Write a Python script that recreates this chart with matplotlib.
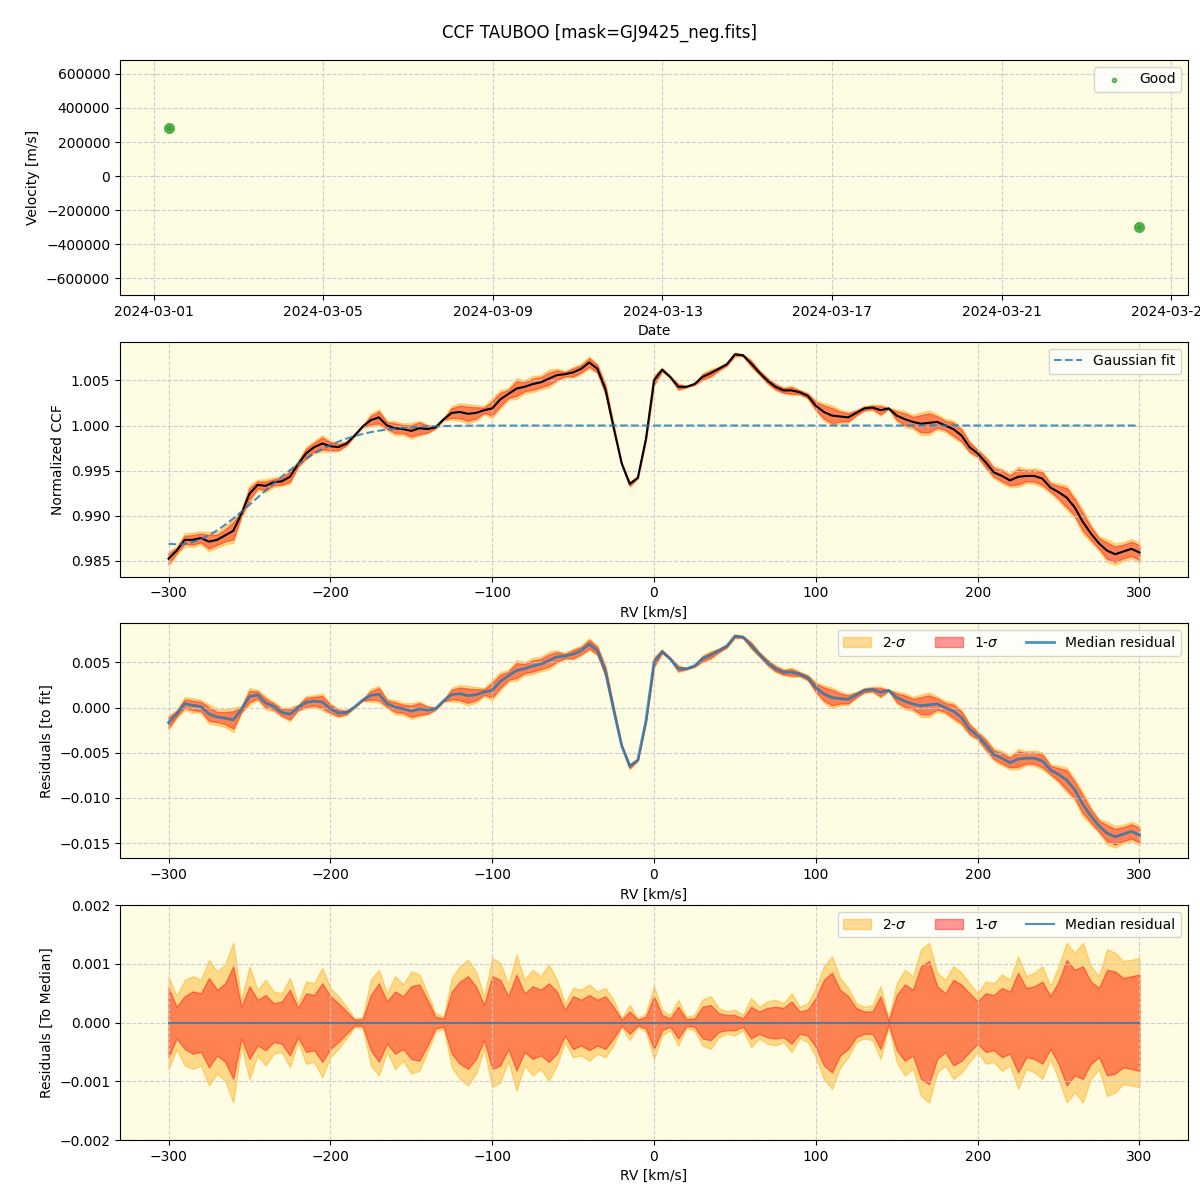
import numpy as np
import matplotlib
matplotlib.use("Agg")
import matplotlib.pyplot as plt
import matplotlib.dates as mdates
from matplotlib.ticker import MultipleLocator
from datetime import datetime

# --- top panel: RV time series ---
obs_dates = [datetime(2024, 3, 1, 8, 25), datetime(2024, 3, 24, 6, 0)]
obs_velocity = [282000, -298000]

# --- CCF, sampled every 5 km/s from -300 to 300 ---
rv_grid = list(range(-300, 305, 5))
ccf_values = [
    0.9852, 0.9861, 0.9873, 0.9873, 0.9875, 0.9871, 0.9873, 0.9878, 0.9883, 0.9902,
    0.9924, 0.9934, 0.9933, 0.9937, 0.9938, 0.9943, 0.9957, 0.9969, 0.9976, 0.9980,
    0.9977, 0.9976, 0.9980, 0.9989, 0.9999, 1.0006, 1.0009, 1.0000, 0.9997, 0.9996,
    0.9994, 0.9997, 0.9996, 0.9998, 1.0007, 1.0014, 1.0015, 1.0013, 1.0014, 1.0017,
    1.0019, 1.0029, 1.0035, 1.0041, 1.0043, 1.0046, 1.0048, 1.0052, 1.0056, 1.0057,
    1.0059, 1.0063, 1.0070, 1.0063, 1.0040, 0.9998, 0.9958, 0.9935, 0.9942, 0.9985,
    1.0050, 1.0062, 1.0054, 1.0043, 1.0043, 1.0046, 1.0054, 1.0058, 1.0063, 1.0068,
    1.0079, 1.0078, 1.0069, 1.0059, 1.0050, 1.0043, 1.0039, 1.0039, 1.0037, 1.0033,
    1.0022, 1.0015, 1.0011, 1.0010, 1.0009, 1.0014, 1.0019, 1.0020, 1.0017, 1.0019,
    1.0011, 1.0007, 1.0004, 1.0002, 1.0003, 1.0004, 1.0000, 0.9996, 0.9989, 0.9976,
    0.9969, 0.9959, 0.9948, 0.9944, 0.9939, 0.9943, 0.9944, 0.9944, 0.9941, 0.9931,
    0.9926, 0.9920, 0.9909, 0.9893, 0.9880, 0.9869, 0.9861, 0.9857, 0.9860, 0.9863,
    0.9859,
]

# half-widths of the 1-sigma and 2-sigma spread around the median
sigma1 = [
    0.00059, 0.00027, 0.00045, 0.00053, 0.00050, 0.00076, 0.00056, 0.00067, 0.00096, 0.00027,
    0.00062, 0.00039, 0.00047, 0.00033, 0.00036, 0.00056, 0.00025, 0.00050, 0.00047, 0.00067,
    0.00045, 0.00033, 0.00019, 0.00005, 0.00006, 0.00047, 0.00067, 0.00036, 0.00053, 0.00045,
    0.00062, 0.00065, 0.00039, 0.00010, 0.00007, 0.00053, 0.00070, 0.00079, 0.00062, 0.00030,
    0.00079, 0.00073, 0.00045, 0.00082, 0.00050, 0.00062, 0.00056, 0.00067, 0.00053, 0.00022,
    0.00045, 0.00039, 0.00047, 0.00039, 0.00045, 0.00027, 0.00005, 0.00019, 0.00005, 0.00010,
    0.00045, 0.00013, 0.00007, 0.00027, 0.00006, 0.00007, 0.00027, 0.00030, 0.00016, 0.00013,
    0.00013, 0.00007, 0.00027, 0.00019, 0.00025, 0.00027, 0.00025, 0.00036, 0.00019, 0.00022,
    0.00042, 0.00073, 0.00085, 0.00056, 0.00045, 0.00025, 0.00019, 0.00019, 0.00045, 0.00003,
    0.00047, 0.00065, 0.00056, 0.00096, 0.00105, 0.00062, 0.00050, 0.00073, 0.00065, 0.00050,
    0.00036, 0.00050, 0.00047, 0.00059, 0.00053, 0.00085, 0.00059, 0.00062, 0.00070, 0.00045,
    0.00070, 0.00107, 0.00090, 0.00096, 0.00070, 0.00059, 0.00090, 0.00087, 0.00076, 0.00079,
    0.00082,
]
sigma2 = [
    0.00079, 0.00045, 0.00073, 0.00079, 0.00073, 0.00107, 0.00087, 0.00099, 0.00136, 0.00039,
    0.00096, 0.00056, 0.00073, 0.00053, 0.00050, 0.00076, 0.00033, 0.00070, 0.00067, 0.00093,
    0.00059, 0.00045, 0.00027, 0.00007, 0.00010, 0.00073, 0.00090, 0.00050, 0.00079, 0.00065,
    0.00087, 0.00082, 0.00050, 0.00016, 0.00010, 0.00076, 0.00096, 0.00107, 0.00087, 0.00045,
    0.00110, 0.00102, 0.00065, 0.00116, 0.00073, 0.00090, 0.00079, 0.00099, 0.00073, 0.00033,
    0.00059, 0.00056, 0.00065, 0.00053, 0.00059, 0.00039, 0.00007, 0.00030, 0.00007, 0.00016,
    0.00062, 0.00022, 0.00013, 0.00039, 0.00010, 0.00013, 0.00039, 0.00045, 0.00025, 0.00019,
    0.00022, 0.00013, 0.00042, 0.00027, 0.00036, 0.00039, 0.00033, 0.00050, 0.00027, 0.00033,
    0.00059, 0.00096, 0.00113, 0.00076, 0.00059, 0.00033, 0.00027, 0.00030, 0.00062, 0.00007,
    0.00067, 0.00090, 0.00079, 0.00125, 0.00136, 0.00085, 0.00073, 0.00096, 0.00085, 0.00067,
    0.00050, 0.00070, 0.00067, 0.00082, 0.00073, 0.00113, 0.00079, 0.00085, 0.00096, 0.00062,
    0.00096, 0.00136, 0.00119, 0.00136, 0.00096, 0.00079, 0.00125, 0.00119, 0.00105, 0.00107,
    0.00110,
]

# Gaussian fit parameters (baseline, depth, centre, width) in km/s
fit_baseline = 1.0
fit_depth = 0.0132
fit_center = -295.0
fit_width = 50.0

rv = np.array(rv_grid, dtype=float)
ccf = np.array(ccf_values)
s1 = np.array(sigma1)
s2 = np.array(sigma2)
fit = fit_baseline - fit_depth * np.exp(-(rv - fit_center) ** 2 / (2 * fit_width ** 2))
resid = ccf - fit

bg = "#fefce2"
grid_kw = dict(linestyle="--", color="#c8c8d0", linewidth=0.8, alpha=0.9)

fig, axes = plt.subplots(4, 1, figsize=(12, 12), dpi=100)
fig.subplots_adjust(left=0.1, right=0.99, top=0.95, bottom=0.05, hspace=0.2)
fig.suptitle("CCF TAUBOO [mask=GJ9425_neg.fits]", fontsize=12)

# panel 1
ax = axes[0]
ax.set_facecolor(bg)
ax.plot(obs_dates, obs_velocity, "o", color="tab:green", ms=7, alpha=0.75)
ax.scatter(obs_dates, obs_velocity, s=10, color="green", alpha=0.5, label="Good")
ax.set_ylim(min(obs_velocity) - 4e5, max(obs_velocity) + 4e5)
ax.xaxis.set_major_locator(mdates.DayLocator(bymonthday=range(1, 32, 4)))
ax.xaxis.set_major_formatter(mdates.DateFormatter("%Y-%m-%d"))
ax.set_xlabel("Date")
ax.set_ylabel("Velocity [m/s]")
ax.grid(True, **grid_kw)
ax.legend(loc="upper right")

# panel 2
ax = axes[1]
ax.set_facecolor(bg)
ax.fill_between(rv, ccf - s2, ccf + s2, color="orange", alpha=0.4)
ax.fill_between(rv, ccf - s1, ccf + s1, color="red", alpha=0.4)
ax.plot(rv, ccf, color="black", lw=1.5)
ax.plot(rv, fit, "--", color="tab:blue", alpha=0.8, lw=1.5, label="Gaussian fit")
ax.set_xlabel("RV [km/s]")
ax.set_ylabel("Normalized CCF")
ax.grid(True, **grid_kw)
ax.legend(loc="upper right")

# panel 3
ax = axes[2]
ax.set_facecolor(bg)
ax.fill_between(rv, resid - s2, resid + s2, color="orange", alpha=0.4, label=r"2-$\sigma$")
ax.fill_between(rv, resid - s1, resid + s1, color="red", alpha=0.4, label=r"1-$\sigma$")
ax.plot(rv, resid, color="tab:blue", alpha=0.8, lw=2, label="Median residual")
ax.set_xlabel("RV [km/s]")
ax.set_ylabel("Residuals [to fit]")
ax.grid(True, **grid_kw)
ax.legend(loc="upper right", ncol=3)

# panel 4
ax = axes[3]
ax.set_facecolor(bg)
zero = np.zeros_like(rv)
ax.fill_between(rv, -s2, s2, color="orange", alpha=0.4, label=r"2-$\sigma$")
ax.fill_between(rv, -s1, s1, color="red", alpha=0.4, label=r"1-$\sigma$")
ax.plot(rv, zero, color="tab:blue", alpha=0.8, lw=1.5, label="Median residual")
ax.set_ylim(-0.002, 0.002)
ax.yaxis.set_major_locator(MultipleLocator(0.001))
ax.set_xlabel("RV [km/s]")
ax.set_ylabel("Residuals [To Median]")
ax.grid(True, **grid_kw)
ax.legend(loc="upper right", ncol=3)

fig.savefig("out.png", dpi=100)
